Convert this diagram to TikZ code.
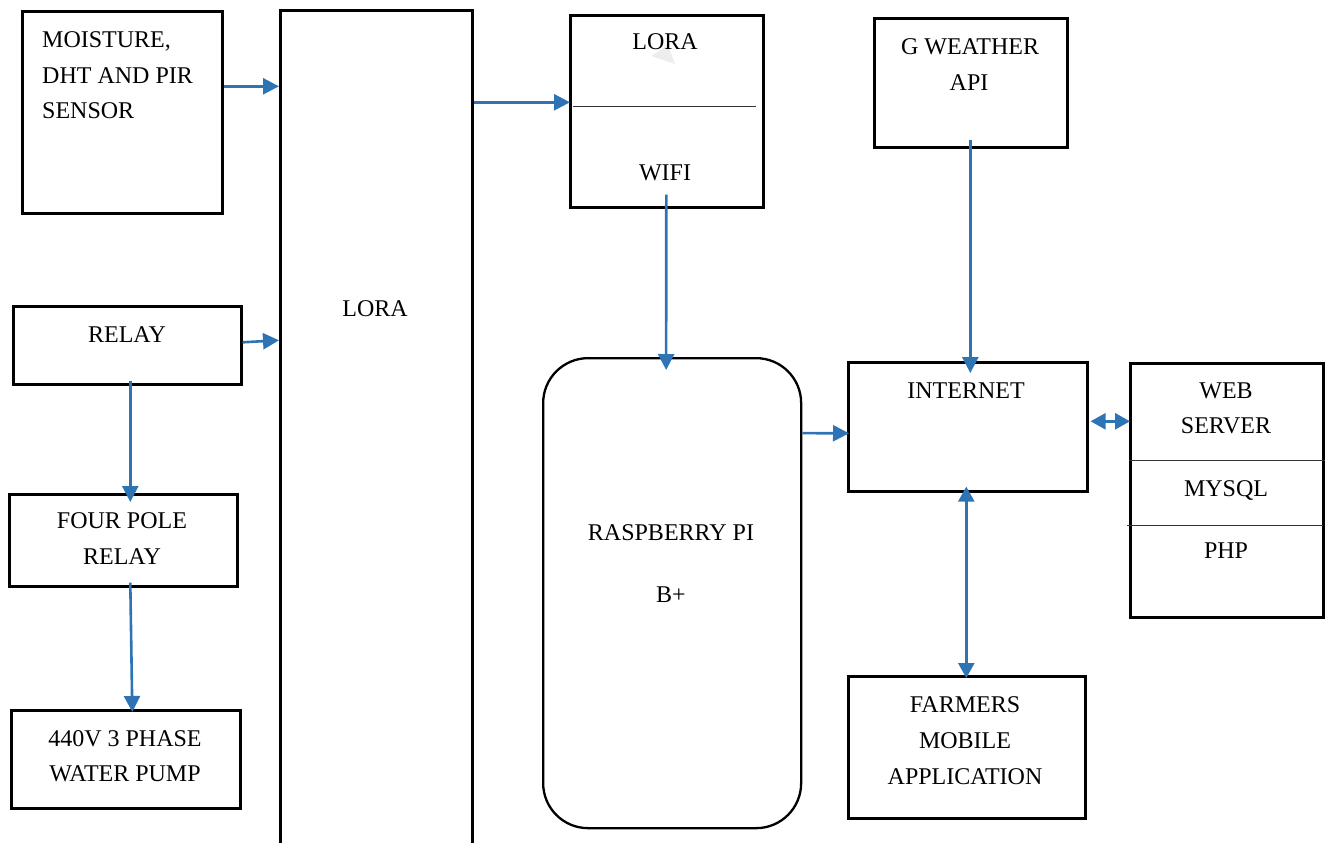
\documentclass[tikz,border=0pt]{standalone}
\usepackage{fontspec}
\setmainfont{Liberation Serif}
\usetikzlibrary{arrows.meta}
\definecolor{arrowblue}{RGB}{46,116,181}
\tikzset{
  box/.style={draw=black, line width=2.6pt, fill=none, inner sep=0pt, anchor=north west},
  lbl/.style={inner sep=0pt, anchor=base, font=\fontsize{24}{28}\selectfont},
  lblw/.style={inner sep=0pt, anchor=base west, font=\fontsize{24}{28}\selectfont},
  arr/.style={draw=arrowblue, line width=2.6pt, -{Triangle[length=16pt,width=16pt]}},
  darr/.style={draw=arrowblue, line width=2.6pt, {Triangle[length=15pt,width=16pt]}-{Triangle[length=15pt,width=16pt]}},
  divider/.style={draw=black!80, line width=1.3pt}
}
\begin{document}
\begin{tikzpicture}[x=1pt,y=-1pt]
\useasboundingbox (0,0) rectangle (1325,843);
% boxes
\node[box, minimum width=200pt, minimum height=202pt] (sens) at (21,10) {};
\node[box, minimum width=192pt, minimum height=851pt] (lora) at (279,9) {};
\node[box, minimum width=228pt, minimum height=78pt] (relay) at (12,305) {};
\node[box, minimum width=228pt, minimum height=92pt] (four) at (8,493) {};
\node[box, minimum width=229pt, minimum height=98pt] (pump) at (10,709) {};
\node[box, minimum width=193pt, minimum height=192pt] (lw) at (569,14) {};
\node[box, line width=2.3pt, rounded corners=45pt, minimum width=258pt, minimum height=470pt] (rpi) at (542,357) {};
\node[box, minimum width=193pt, minimum height=129pt] (gw) at (873,17) {};
\node[box, minimum width=239pt, minimum height=129pt] (inet) at (847,361) {};
\node[box, minimum width=193pt, minimum height=254pt] (web) at (1129,362) {};
\node[box, minimum width=237pt, minimum height=142pt] (farm) at (847,675) {};
% dividers
\draw[divider] ([xshift=4pt,yshift=5pt]lw.west) -- ([xshift=-9pt,yshift=5pt]lw.east);
\draw[divider] ([yshift=30pt]web.west) -- ([xshift=3pt,yshift=30pt]web.east);
\draw[divider] ([xshift=-2pt,yshift=-35pt]web.west) -- ([xshift=-2pt,yshift=-35pt]web.east);
% faint artefact
\fill[black!7] (651,56) -- (668,45) -- (675,64) -- cycle;
% texts
\node[lblw] (t1) at (42,48) {MOISTURE,};
\node[lblw] (t2) at (42,83) {DHT AND PIR};
\node[lblw] (t3) at (42,118) {SENSOR};
\node[lbl] (t4) at (375,316) {LORA};
\node[lbl] (t5) at (127,342) {RELAY};
\node[lbl] (t6) at (122,528) {FOUR POLE};
\node[lbl] (t7) at (122,564) {RELAY};
\node[lbl] (t8) at (125,746) {440V 3 PHASE};
\node[lbl] (t9) at (125,781) {WATER PUMP};
\node[lbl] (t10) at (665,50) {LORA};
\node[lbl] (t11) at (665,180) {WIFI};
\node[lbl] (t12) at (970,55) {G WEATHER};
\node[lbl] (t13) at (969,90) {API};
\node[lbl] (t14) at (671,540) {RASPBERRY PI};
\node[lbl] (t15) at (671,602) {B+};
\node[lbl] (t16) at (966,398) {INTERNET};
\node[lbl] (t17) at (1226,398) {WEB};
\node[lbl] (t18) at (1226,433) {SERVER};
\node[lbl] (t19) at (1226,496) {MYSQL};
\node[lbl] (t20) at (1226,558) {PHP};
\node[lbl] (t21) at (965,712) {FARMERS};
\node[lbl] (t22) at (965,748) {MOBILE};
\node[lbl] (t23) at (965,784) {APPLICATION};
% connectors
\draw[arr] ([yshift=26pt]sens.east) -- ([yshift=349.5pt]lora.west);
\draw[arr] ([yshift=3pt]relay.east) -- ([yshift=95.5pt]lora.west);
\draw[arr] ([xshift=3pt,yshift=5pt]relay.south) -- ([xshift=7pt,yshift=-9pt]four.north);
\draw[arr] ([xshift=7pt,yshift=5pt]four.south) -- ([xshift=6.5pt,yshift=-3pt]pump.north);
\draw[arr] ([yshift=333.5pt]lora.east) -- ([xshift=1pt,yshift=9pt]lw.west);
\draw[arr] ([xshift=-0.5pt,yshift=14pt]lw.south) -- ([xshift=-6pt,yshift=-13pt]rpi.north);
\draw[arr] ([xshift=-0.5pt,yshift=9pt]gw.south) -- ([xshift=2.5pt,yshift=-12pt]inet.north);
\draw[arr] ([yshift=160pt]rpi.east) -- ([xshift=2pt,yshift=-6.5pt]inet.west);
\draw[darr] ([xshift=2pt,yshift=5.5pt]inet.east) -- ([xshift=1pt,yshift=69pt]web.west);
\draw[darr] ([xshift=-1.5pt,yshift=6pt]inet.south) -- ([xshift=-0.5pt,yshift=-3pt]farm.north);
\end{tikzpicture}
\end{document}
